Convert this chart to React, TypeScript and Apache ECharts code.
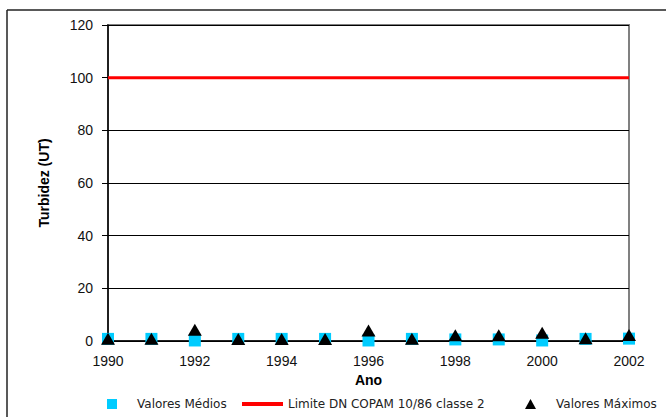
import React, { useEffect, useRef } from "react";
import * as echarts from "echarts";

const years = [1990, 1991, 1992, 1993, 1994, 1995, 1996, 1997, 1998, 1999, 2000, 2001, 2002];
const valoresMedios = [0.8, 0.8, 0.2, 0.8, 0.8, 0.8, 0.2, 0.8, 0.6, 0.6, 0.2, 0.8, 0.9];
const valoresMaximos = [0.9, 0.9, 4.3, 0.8, 0.8, 0.8, 4.0, 0.9, 2.2, 2.2, 3.1, 1.0, 2.3];
const limiteCopam = 100;

const SERIES_MEDIOS = "Valores Médios";
const SERIES_LIMITE = "Limite DN COPAM 10/86 classe 2";
const SERIES_MAXIMOS = "Valores Máximos";

const FONT = "Liberation Sans, Arial, sans-serif";
const LEGEND_FONT = "DejaVu Sans, sans-serif";

const legendText = (padLeft: number) => ({
  fontFamily: LEGEND_FONT,
  fontSize: 12,
  color: "#222",
  padding: [0, 0, 0, padLeft],
});

export default function App() {
  const ref = useRef<HTMLDivElement>(null);

  useEffect(() => {
    if (!ref.current) return;
    const chart = echarts.init(ref.current, null, { renderer: "svg" });
    const limitData = [
      [years[0], limiteCopam],
      [years[years.length - 1], limiteCopam],
    ];
    chart.setOption({
      animation: false,
      backgroundColor: "#ffffff",
      textStyle: { fontFamily: FONT },
      grid: {
        left: 108,
        right: 37,
        top: 25,
        bottom: 76,
        show: true,
        borderColor: "#808080",
        borderWidth: 2,
      },
      xAxis: {
        type: "value",
        min: 1990,
        max: 2002,
        interval: 2,
        name: "Ano",
        nameLocation: "middle",
        nameGap: 28,
        nameTextStyle: { fontFamily: FONT, fontSize: 14, fontWeight: "bold", color: "#000" },
        axisLine: { show: true, onZero: false, lineStyle: { color: "#000", width: 1.5 } },
        axisTick: { show: true, inside: true, length: 3, lineStyle: { color: "#000" } },
        minorTick: { show: true, splitNumber: 2, length: 3, lineStyle: { color: "#000" } },
        axisLabel: {
          fontFamily: FONT,
          fontSize: 14,
          color: "#111",
          margin: 13,
          formatter: (v: number) => String(v),
        },
        splitLine: { show: false },
      },
      yAxis: {
        type: "value",
        min: 0,
        max: 120,
        interval: 20,
        name: "Turbidez (UT)",
        nameLocation: "middle",
        nameGap: 57,
        nameRotate: 90,
        nameTextStyle: { fontFamily: FONT, fontSize: 14, fontWeight: "bold", color: "#000" },
        axisLine: { show: true, lineStyle: { color: "#000", width: 1.5 } },
        axisTick: { show: true, length: 6, lineStyle: { color: "#000" } },
        axisLabel: {
          fontFamily: FONT,
          fontSize: 14,
          color: "#111",
          margin: 15,
        },
        splitLine: { show: true, lineStyle: { color: "#000", width: 1 } },
      },
      legend: [
        {
          left: 107,
          top: 398,
          padding: 0,
          itemWidth: 10,
          itemHeight: 10,
          textStyle: legendText(15),
          data: [{ name: SERIES_MEDIOS, icon: "rect", itemStyle: { color: "#00ccff", opacity: 1 } }],
        },
        {
          left: 242,
          top: 398,
          padding: 0,
          itemWidth: 41,
          itemHeight: 4,
          textStyle: legendText(0),
          data: [{ name: SERIES_LIMITE, icon: "rect", itemStyle: { color: "#ff0000", opacity: 1 } }],
        },
        {
          left: 525,
          top: 398,
          padding: 0,
          itemWidth: 11,
          itemHeight: 10,
          textStyle: legendText(15),
          data: [{ name: SERIES_MAXIMOS, icon: "triangle", itemStyle: { color: "#000", opacity: 1 } }],
        },
      ],
      series: [
        {
          name: SERIES_LIMITE,
          type: "line",
          data: limitData,
          symbol: "none",
          lineStyle: { color: "#ff0000", width: 3 },
          itemStyle: { color: "#ff0000" },
          z: 2,
        },
        {
          name: SERIES_MEDIOS,
          type: "scatter",
          data: years.map((y, i) => [y, valoresMedios[i]]),
          symbol: "rect",
          symbolSize: 12,
          itemStyle: { color: "#00ccff", opacity: 1 },
          z: 3,
        },
        {
          name: SERIES_MAXIMOS,
          type: "scatter",
          data: years.map((y, i) => [y, valoresMaximos[i]]),
          symbol: "triangle",
          symbolSize: [14, 12],
          itemStyle: { color: "#000", opacity: 1 },
          z: 4,
        },
      ],
      graphic: [
        {
          type: "line",
          shape: { x1: 7, y1: 10, x2: 666, y2: 10 },
          style: { stroke: "#222", lineWidth: 1.5 },
          silent: true,
        },
        {
          type: "line",
          shape: { x1: 7, y1: 10, x2: 7, y2: 417 },
          style: { stroke: "#222", lineWidth: 1.5 },
          silent: true,
        },
      ],
    });
    return () => chart.dispose();
  }, []);

  return (
    <div
      ref={ref}
      style={{ position: "fixed", left: 0, top: 0, width: 666, height: 417, background: "#fff" }}
    />
  );
}
